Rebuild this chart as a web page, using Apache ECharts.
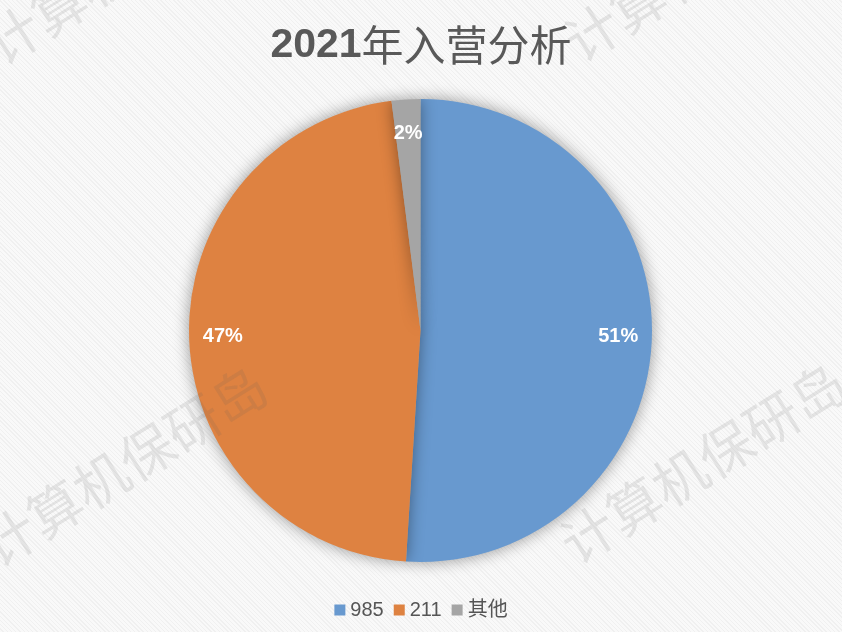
<!DOCTYPE html>
<html>
<head>
<meta charset="utf-8">
<script src="https://cdn.jsdelivr.net/npm/echarts@6/dist/echarts.min.js"></script>
<style>
html,body{margin:0;padding:0;}
#main{width:842px;height:632px;background:repeating-linear-gradient(45deg,#f9f9f9 0px,#f9f9f9 2px,#f0f0f0 2px,#f0f0f0 3px);}
</style>
</head>
<body>
<div id="main"></div>
<script>
const titleYear = '2021';
const titleRest = '年入营分析';
const categories = ['985', '211', '其他'];
const values = [51, 47, 2];
const colors = ['#6899cf', '#de8241', '#a5a5a5'];
const watermarkText = '计算机保研岛';

const chart = echarts.init(document.getElementById('main'), null, {renderer: 'canvas'});
const data = categories.map((c, i) => ({name: c, value: values[i]}));
const fontFam = '"Liberation Sans", "Noto Sans CJK SC", sans-serif';

const wmPositions = [[124, 466], [703, 463], [128, -36], [707, -39]];
const graphics = wmPositions.map(p => ({
  type: 'text',
  x: p[0], y: p[1],
  rotation: 32 * Math.PI / 180,
  z: 100,
  silent: true,
  style: {
    text: watermarkText,
    fill: 'rgba(90,90,90,0.13)',
    font: '54px "Noto Sans CJK SC", sans-serif',
    align: 'center',
    verticalAlign: 'middle'
  }
}));

chart.setOption({
  backgroundColor: 'transparent',
  color: colors,
  title: {
    text: '{a|' + titleYear + '}{b|' + titleRest + '}',
    left: 'center',
    top: 15,
    textStyle: {
      color: '#595959',
      rich: {
        a: {fontSize: 41, fontWeight: 'bold', color: '#595959', fontFamily: fontFam, verticalAlign: 'bottom', lineHeight: 46},
        b: {fontSize: 42, fontWeight: 'normal', color: '#595959', fontFamily: '"Noto Sans CJK SC", sans-serif', verticalAlign: 'bottom', lineHeight: 46}
      }
    }
  },
  legend: {
    data: categories,
    left: 'center',
    top: 595,
    icon: 'rect',
    itemWidth: 11,
    itemHeight: 11,
    itemGap: 10,
    textStyle: {fontSize: 20, color: '#555555', fontFamily: fontFam}
  },
  graphic: graphics,
  series: [
    {
      type: 'pie',
      center: [420.5, 330.5],
      radius: [0, 231.5],
      startAngle: 90,
      clockwise: true,
      data: data,
      label: {show: false},
      labelLine: {show: false},
      itemStyle: {shadowBlur: 16, shadowColor: 'rgba(0,0,0,0.4)'},
      emphasis: {disabled: true}
    },
    {
      type: 'pie',
      center: [420.5, 330.5],
      radius: [158, 231.5],
      startAngle: 90,
      clockwise: true,
      data: data,
      silent: true,
      legendHoverLink: false,
      itemStyle: {color: 'rgba(0,0,0,0)'},
      label: {
        show: true,
        position: 'inside',
        formatter: p => Math.round(p.percent) + '%',
        color: '#ffffff',
        fontSize: 20,
        fontWeight: 'bold',
        fontFamily: fontFam
      },
      labelLine: {show: false},
      emphasis: {disabled: true}
    }
  ]
});
</script>
</body>
</html>
